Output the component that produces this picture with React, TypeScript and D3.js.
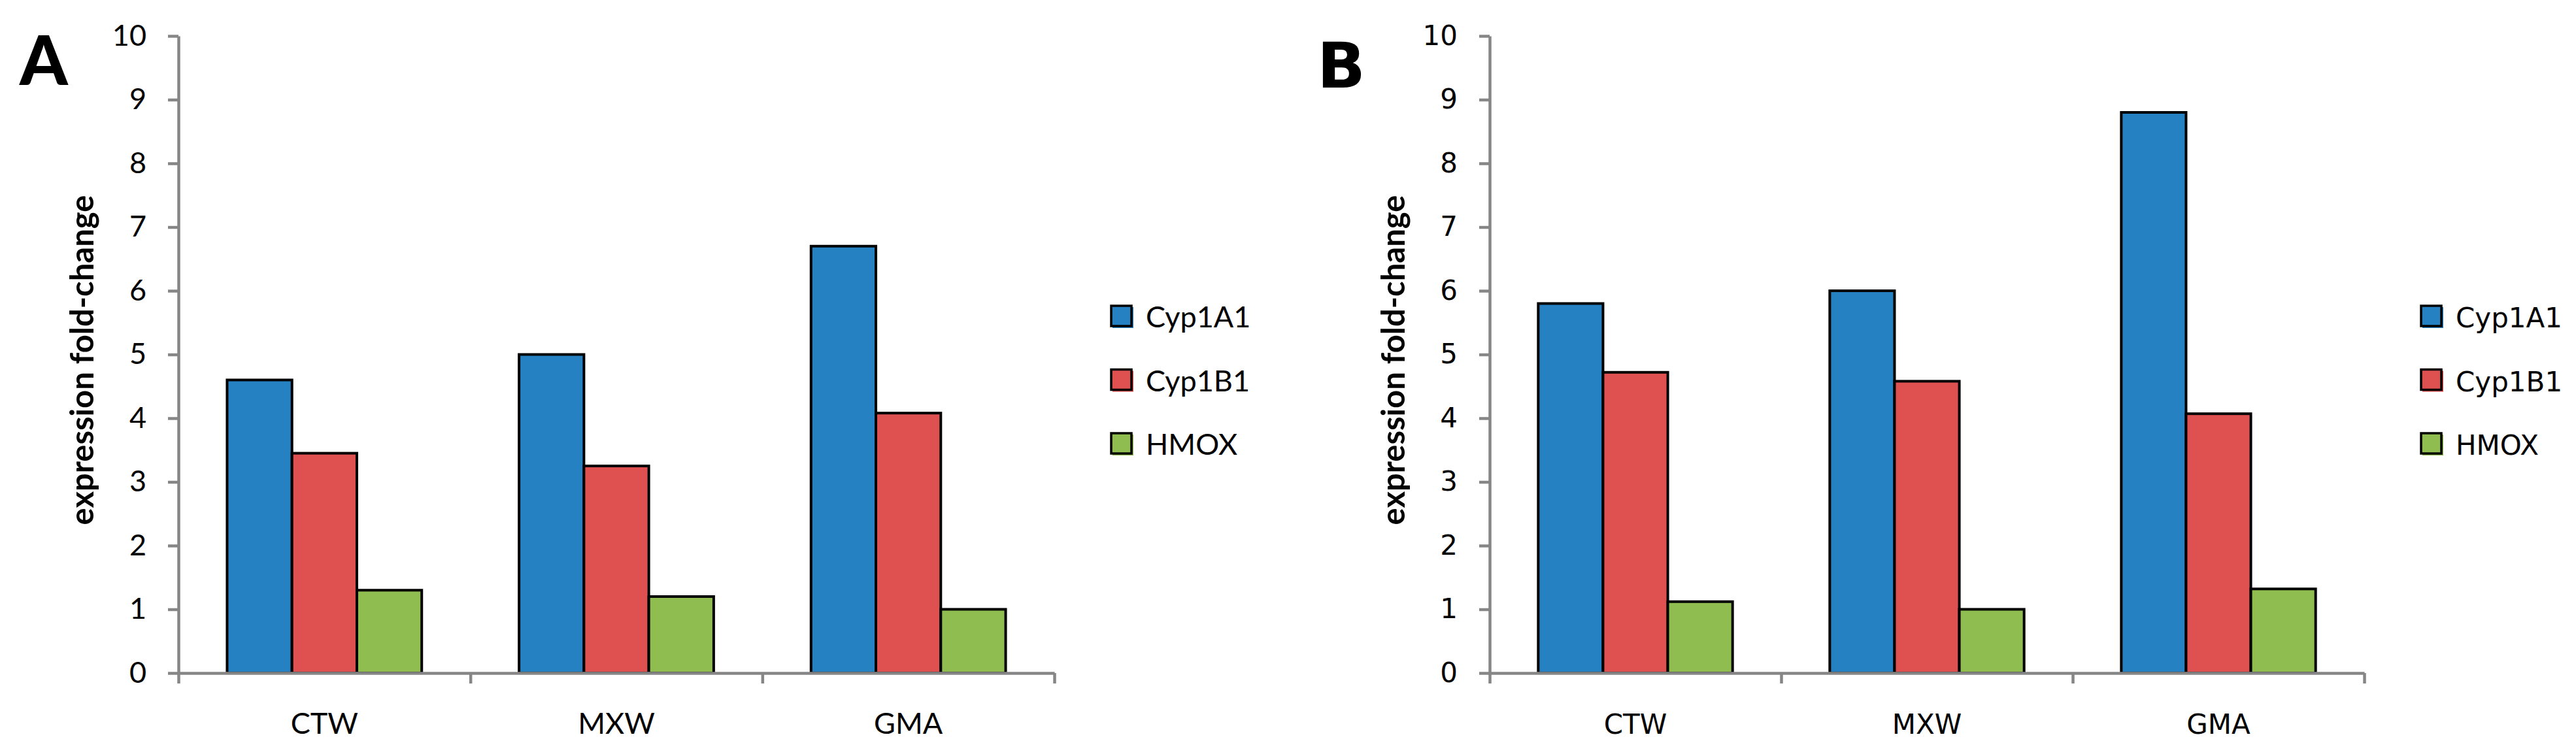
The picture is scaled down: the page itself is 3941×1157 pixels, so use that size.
import React, { useEffect, useRef } from 'react';
import * as d3 from 'd3';

// categories and series
const categories = ['CTW', 'MXW', 'GMA'];
const seriesNames = ['Cyp1A1', 'Cyp1B1', 'HMOX'];
const seriesColors = ['#2581C1', '#DF5050', '#8FBD4F'];
const yTicks = [0, 1, 2, 3, 4, 5, 6, 7, 8, 9, 10];

// panel A values (one entry per category)
const aCyp1A1 = [4.6, 5.0, 6.7];
const aCyp1B1 = [3.45, 3.25, 4.08];
const aHMOX = [1.3, 1.2, 1.0];

// panel B values
const bCyp1A1 = [5.8, 6.0, 8.8];
const bCyp1B1 = [4.72, 4.58, 4.07];
const bHMOX = [1.12, 1.0, 1.32];

interface PanelCfg {
  letter: string;
  letterFont: string;
  letterSize: number;
  letterX: number;
  letterY: number;
  left: number;
  right: number;
  font: string;
  fontSize: number;
  values: number[][]; // per series
}

const W = 3941;
const H = 1157;
const AXIS_GREY = '#868686';

function drawPanel(svg: d3.Selection<SVGSVGElement, unknown, null, undefined>, cfg: PanelCfg) {
  const g = svg.append('g');

  const x0 = d3.scaleBand<string>()
    .domain(categories)
    .range([cfg.left, cfg.right])
    .paddingInner(1 / 3)
    .paddingOuter(1 / 6);

  const x1 = d3.scaleBand<string>()
    .domain(seriesNames)
    .range([0, x0.bandwidth()]);

  const y = d3.scaleLinear().domain([0, 10]).range([1030, 55]);

  // bars
  const rows = categories.map((c, ci) => ({
    cat: c,
    vals: seriesNames.map((s, si) => ({ s, si, v: cfg.values[si][ci] })),
  }));

  g.selectAll('g.grp')
    .data(rows)
    .enter()
    .append('g')
    .attr('transform', d => `translate(${x0(d.cat)},0)`)
    .selectAll('rect')
    .data(d => d.vals)
    .enter()
    .append('rect')
    .attr('x', d => x1(d.s) ?? 0)
    .attr('y', d => y(d.v))
    .attr('width', x1.bandwidth())
    .attr('height', d => y(0) - y(d.v))
    .attr('fill', d => seriesColors[d.si])
    .attr('stroke', '#000')
    .attr('stroke-width', 4);

  // x axis with boundary ticks
  const boundary = d3.scaleLinear().domain([0, categories.length]).range([cfg.left, cfg.right]);
  const xAxis = g.append('g')
    .attr('transform', `translate(0,${y(0)})`)
    .call(d3.axisBottom(boundary)
      .tickValues(d3.range(0, categories.length + 1))
      .tickSize(16)
      .tickSizeOuter(0)
      .tickFormat(() => ''));
  xAxis.select('.domain').attr('stroke', AXIS_GREY).attr('stroke-width', 4.5);
  xAxis.selectAll('.tick line').attr('stroke', AXIS_GREY).attr('stroke-width', 4.5);

  // y axis
  const yAxis = g.append('g')
    .attr('transform', `translate(${cfg.left},0)`)
    .call(d3.axisLeft(y)
      .tickValues(yTicks)
      .tickSize(16)
      .tickSizeOuter(0)
      .tickPadding(33)
      .tickFormat(d => String(d)));
  yAxis.attr('font-family', cfg.font).attr('font-size', cfg.fontSize);
  yAxis.select('.domain').attr('stroke', AXIS_GREY).attr('stroke-width', 4.5);
  yAxis.selectAll('.tick line').attr('stroke', AXIS_GREY).attr('stroke-width', 4.5);
  yAxis.selectAll('.tick text').attr('fill', '#000');

  // category labels
  g.selectAll('text.cat')
    .data(categories)
    .enter()
    .append('text')
    .attr('class', 'cat')
    .attr('x', d => (x0(d) ?? 0) + x0.bandwidth() / 2)
    .attr('y', 1123)
    .attr('text-anchor', 'middle')
    .attr('font-family', cfg.font)
    .attr('font-size', cfg.fontSize)
    .text(d => d);

  // y title
  g.append('text')
    .attr('transform', `translate(${cfg.left - 130},551) rotate(-90)`)
    .attr('text-anchor', 'middle')
    .attr('font-family', 'Lato')
    .attr('font-weight', 'bold')
    .attr('font-size', 49)
    .text('expression fold-change');

  // panel letter
  g.append('text')
    .attr('x', cfg.letterX)
    .attr('y', cfg.letterY)
    .attr('font-family', cfg.letterFont)
    .attr('font-weight', 900)
    .attr('font-size', cfg.letterSize)
    .text(cfg.letter);

  // legend
  const sq = 32;
  const lx = cfg.right + 87;
  const legend = g.selectAll('g.leg')
    .data(seriesNames)
    .enter()
    .append('g')
    .attr('transform', (d, i) => `translate(${lx},${484 + i * 97.5})`);

  legend.append('rect')
    .attr('x', 2)
    .attr('y', -sq / 2 + 2)
    .attr('width', sq)
    .attr('height', sq)
    .attr('fill', (d, i) => seriesColors[i]);

  legend.append('rect')
    .attr('x', 0)
    .attr('y', -sq / 2)
    .attr('width', sq - 1)
    .attr('height', sq - 1)
    .attr('fill', (d, i) => seriesColors[i])
    .attr('stroke', '#000')
    .attr('stroke-width', 3.5);

  legend.append('text')
    .attr('x', 53)
    .attr('y', 17)
    .attr('font-family', cfg.font)
    .attr('font-size', cfg.fontSize)
    .text(d => d);
}

export default function App() {
  const ref = useRef<SVGSVGElement>(null);

  useEffect(() => {
    document.body.style.margin = '0';
    if (!ref.current) return;
    const svg = d3.select(ref.current);
    svg.selectAll('*').remove();

    drawPanel(svg, {
      letter: 'A',
      letterFont: 'Lato',
      letterSize: 105,
      letterX: 30,
      letterY: 130,
      left: 273,
      right: 1613,
      font: 'Lato',
      fontSize: 45,
      values: [aCyp1A1, aCyp1B1, aHMOX],
    });

    drawPanel(svg, {
      letter: 'B',
      letterFont: 'DejaVu Sans',
      letterSize: 97,
      letterX: 2015,
      letterY: 134,
      left: 2279,
      right: 3617,
      font: 'DejaVu Sans',
      fontSize: 42,
      values: [bCyp1A1, bCyp1B1, bHMOX],
    });
  }, []);

  return (
    <svg ref={ref} width={W} height={H} style={{ display: 'block', background: '#fff' }} />
  );
}
